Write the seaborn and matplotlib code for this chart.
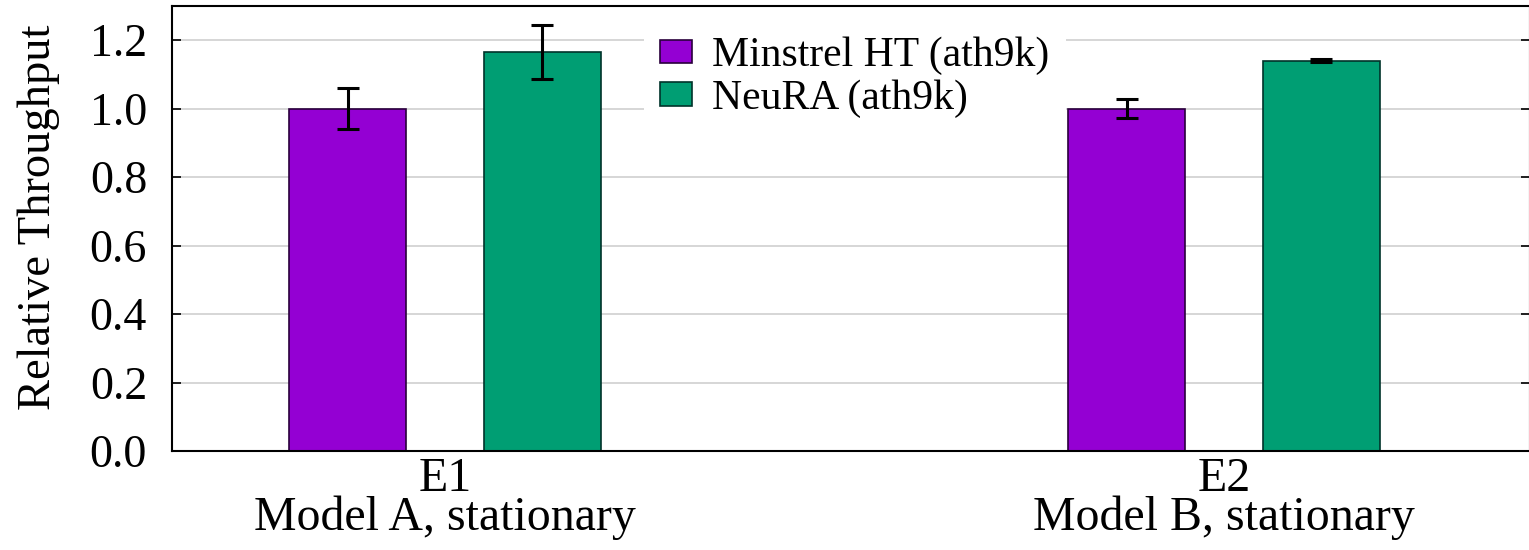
import numpy as np
import pandas as pd
import matplotlib
matplotlib.use("Agg")
import matplotlib.pyplot as plt
import seaborn as sns

# values
experiments = ["E1\nModel A, stationary", "E2\nModel B, stationary"]
algorithms = ["Minstrel HT (ath9k)", "NeuRA (ath9k)"]
minstrel_mean = [1.000, 1.000]
minstrel_err = [0.060, 0.028]
neura_mean = [1.165, 1.140]
neura_err = [0.079, 0.004]

colors = ["#9400d3", "#009e73"]
edges = ["#2a003c", "#00332a"]

df = pd.DataFrame({
    "experiment": experiments * 2,
    "algorithm": [algorithms[0]] * 2 + [algorithms[1]] * 2,
    "value": minstrel_mean + neura_mean,
    "err": minstrel_err + neura_err,
})

sns.set_style("white")
plt.rcParams['font.family'] = ['Liberation Serif', 'DejaVu Serif']
plt.rcParams['mathtext.fontset'] = 'stix'
for k in ["text.color", "axes.labelcolor", "xtick.color", "ytick.color"]:
    plt.rcParams[k] = "black"

fig = plt.figure(figsize=(15.29, 5.5), dpi=100)
ax = fig.add_axes([172 / 1529, 99 / 550, 1358 / 1529, 445 / 550])

sns.barplot(data=df, x="experiment", y="value", hue="algorithm",
            hue_order=algorithms, palette=colors, width=0.5, gap=0.4,
            saturation=1, errorbar=None, ax=ax, zorder=2)

# outline colour and error bars on top of each bar
bar_groups = list(ax.containers)
for i, cont in enumerate(bar_groups):
    sub = df[df["algorithm"] == algorithms[i]]
    xs, ys = [], []
    for p in cont.patches:
        p.set_edgecolor(edges[i])
        p.set_linewidth(1.2)
        xs.append(p.get_x() + p.get_width() / 2)
        ys.append(p.get_height())
    ax.errorbar(xs, ys, yerr=sub["err"].values, fmt="none", ecolor="black",
                elinewidth=2.2, capsize=8, capthick=2.2, zorder=3)

ax.set_xlim(-0.3505, 1.393)
ax.set_ylim(0, 1.3)
ax.set_yticks(np.arange(0, 1.21, 0.2))
ax.set_yticklabels([f"{v:.1f}" for v in np.arange(0, 1.21, 0.2)])
ax.yaxis.grid(True, color="#cccccc", linewidth=1.1, zorder=0)
ax.set_axisbelow(True)

for s in ax.spines.values():
    s.set_color("black")
    s.set_linewidth(1.5)

ax.tick_params(axis="y", direction="in", length=6.5, width=1.2, pad=18,
               labelsize=33, right=True, left=True)
ax.tick_params(axis="x", length=0, pad=4, labelsize=34.5)
for lab in ax.get_xticklabels():
    lab.set_linespacing(0.85)

ax.set_xlabel("")
ax.set_ylabel("Relative Throughput", fontsize=33.5)
ax.yaxis.set_label_coords(-0.0824, 0.525)

leg = ax.legend(loc="upper center", bbox_to_anchor=(0.503, 0.968),
                fontsize=30, frameon=True, fancybox=False, framealpha=1,
                facecolor="white", edgecolor="none", handlelength=0.77,
                handleheight=0.5, handletextpad=0.48, labelspacing=0.1,
                borderpad=0.4, borderaxespad=0)
leg.set_zorder(1.5)
for h, e in zip(leg.legend_handles, edges):
    h.set_edgecolor(e)
    h.set_linewidth(1.2)

fig.savefig("out.png", dpi=100)
